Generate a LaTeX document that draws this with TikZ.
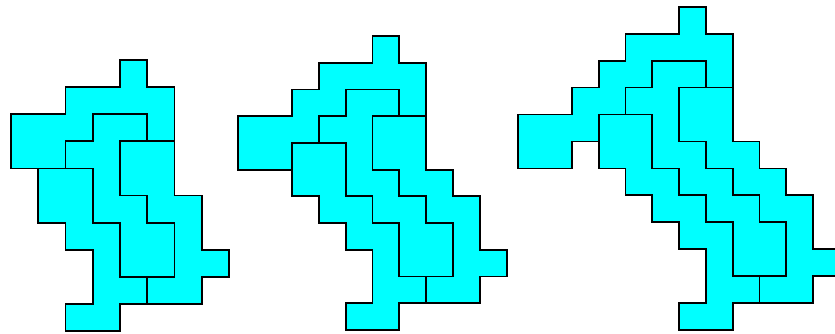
\documentclass[tikz,border=0pt]{standalone}
\usetikzlibrary{calc}
\definecolor{tilecyan}{RGB}{0,255,255}
\tikzset{
  tileshape/.style={fill=tilecyan, draw=black, line width=1.8pt, line join=miter}
}
\begin{document}
\begin{tikzpicture}
\useasboundingbox (0pt,0pt) rectangle (835pt,-333pt);
\clip (0pt,0pt) rectangle (835pt,-333pt);
% ---------- Figure 1 ----------
\begin{scope}[shift={(11pt,-60pt)}, x={(27.25pt,0pt)}, y={(0pt,-27.1pt)}]
\draw[tileshape] (4,0)--(5,0)--(5,1)--(6,1)--(6,3)--(5,3)--(5,2)--(3,2)--(3,3)--(2,3)--(2,4)--(0,4)--(0,2)--(2,2)--(2,1)--(4,1)--cycle;
\draw[tileshape] (3,2)--(5,2)--(5,3)--(4,3)--(4,5)--(5,5)--(5,6)--(6,6)--(6,8)--(4,8)--(4,6)--(3,6)--(3,4)--(2,4)--(2,3)--(3,3)--cycle;
\draw[tileshape] (4,3)--(6,3)--(6,5)--(7,5)--(7,7)--(8,7)--(8,8)--(7,8)--(7,9)--(5,9)--(5,8)--(6,8)--(6,6)--(5,6)--(5,5)--(4,5)--cycle;
\draw[tileshape] (1,4)--(3,4)--(3,6)--(4,6)--(4,8)--(5,8)--(5,9)--(4,9)--(4,10)--(2,10)--(2,9)--(3,9)--(3,7)--(2,7)--(2,6)--(1,6)--cycle;
\end{scope}
% ---------- Figure 2 ----------
\begin{scope}[shift={(238.3pt,-36pt)}, x={(26.84pt,0pt)}, y={(0pt,-26.73pt)}]
\draw[tileshape] (5,0)--(6,0)--(6,1)--(7,1)--(7,3)--(6,3)--(6,2)--(4,2)--(4,3)--(3,3)--(3,4)--(2,4)--(2,5)--(0,5)--(0,3)--(2,3)--(2,2)--(3,2)--(3,1)--(5,1)--cycle;
\draw[tileshape] (4,2)--(6,2)--(6,3)--(5,3)--(5,5)--(6,5)--(6,6)--(7,6)--(7,7)--(8,7)--(8,9)--(6,9)--(6,7)--(5,7)--(5,6)--(4,6)--(4,4)--(3,4)--(3,3)--(4,3)--cycle;
\draw[tileshape] (5,3)--(7,3)--(7,5)--(8,5)--(8,6)--(9,6)--(9,8)--(10,8)--(10,9)--(9,9)--(9,10)--(7,10)--(7,9)--(8,9)--(8,7)--(7,7)--(7,6)--(6,6)--(6,5)--(5,5)--cycle;
\draw[tileshape] (2,4)--(4,4)--(4,6)--(5,6)--(5,7)--(6,7)--(6,9)--(7,9)--(7,10)--(6,10)--(6,11)--(4,11)--(4,10)--(5,10)--(5,8)--(4,8)--(4,7)--(3,7)--(3,6)--(2,6)--cycle;
\end{scope}
% ---------- Figure 3 ----------
\begin{scope}[shift={(518.3pt,-6.7pt)}, x={(26.8pt,0pt)}, y={(0pt,-26.95pt)}]
\draw[tileshape] (6,0)--(7,0)--(7,1)--(8,1)--(8,3)--(7,3)--(7,2)--(5,2)--(5,3)--(4,3)--(4,4)--(3,4)--(3,5)--(2,5)--(2,6)--(0,6)--(0,4)--(2,4)--(2,3)--(3,3)--(3,2)--(4,2)--(4,1)--(6,1)--cycle;
\draw[tileshape] (5,2)--(7,2)--(7,3)--(6,3)--(6,5)--(7,5)--(7,6)--(8,6)--(8,7)--(9,7)--(9,8)--(10,8)--(10,10)--(8,10)--(8,8)--(7,8)--(7,7)--(6,7)--(6,6)--(5,6)--(5,4)--(4,4)--(4,3)--(5,3)--cycle;
\draw[tileshape] (6,3)--(8,3)--(8,5)--(9,5)--(9,6)--(10,6)--(10,7)--(11,7)--(11,9)--(12,9)--(12,10)--(11,10)--(11,11)--(9,11)--(9,10)--(10,10)--(10,8)--(9,8)--(9,7)--(8,7)--(8,6)--(7,6)--(7,5)--(6,5)--cycle;
\draw[tileshape] (3,4)--(5,4)--(5,6)--(6,6)--(6,7)--(7,7)--(7,8)--(8,8)--(8,10)--(9,10)--(9,11)--(8,11)--(8,12)--(6,12)--(6,11)--(7,11)--(7,9)--(6,9)--(6,8)--(5,8)--(5,7)--(4,7)--(4,6)--(3,6)--cycle;
\end{scope}
\end{tikzpicture}
\end{document}
